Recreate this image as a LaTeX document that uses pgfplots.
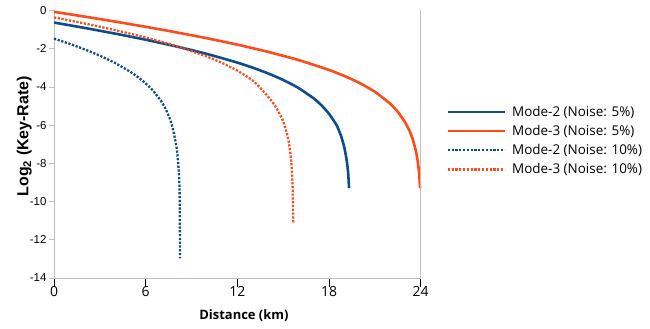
\documentclass[border=0pt]{standalone}
\usepackage{fontspec}
\setmainfont{Open Sans}
\newfontfamily\arialf{Liberation Sans}
\usepackage{pgfplots}
\pgfplotsset{compat=1.18}
\definecolor{modeblue}{RGB}{14,76,140}
\definecolor{modeorange}{RGB}{255,75,25}
\definecolor{axisgray}{RGB}{191,191,191}

\begin{document}
\begin{tikzpicture}
\useasboundingbox (-54bp,-51bp) rectangle (596bp,278bp);
\begin{axis}[
  at={(0,0)}, anchor=south west,
  scale only axis,
  width=366.7bp, height=267.5bp,
  xmin=0, xmax=24, ymin=-14, ymax=0,
  axis x line*=bottom, axis y line*=left,
  axis line style={axisgray, line width=0.9bp, -},
  xtick={0,6,12,18,24},
  ytick={-14,-12,-10,-8,-6,-4,-2,0},
  yticklabels={-14,-12,-10,-8,-6,-4,-2,0},
  tick align=outside,
  x tick style={black, line width=0.8bp},
  y tick style={axisgray, line width=0.8bp},
  x tick label style={font=\fontsize{14}{14}\selectfont},
  y tick label style={font=\arialf\fontsize{11.5}{12}\selectfont, xshift=1bp},
  /pgf/number format/assume math mode=true,
  major tick length=5bp,
  xtick style={/pgfplots/major tick length=9bp},
  every axis x label/.style={at={(axis description cs:0.518,0)}, anchor=center, yshift=-38bp},
  every axis y label/.style={at={(axis description cs:-0.06,0.53)}, anchor=south, rotate=90, inner sep=0pt},
  xlabel={\bfseries\fontsize{13}{13}\selectfont Distance (km)},
  ylabel={\arialf\bfseries\fontsize{16}{16}\selectfont Log\textsubscript{2} (Key-Rate)},
  legend style={at={(1.07,0.651)}, anchor=north west, draw=none, fill=none,
    font=\fontsize{13.5}{13.5}\selectfont, row sep=3.5bp, inner sep=0pt},
  legend cell align=left,
  legend image code/.code={\draw[#1] (0bp,0bp) -- (57bp,0bp); \path (61bp,0bp);},
  clip=false,
]
% Mode-2, noise 5%
\addplot[modeblue, line width=2.6bp, smooth, tension=0.3] coordinates {
(0,-0.630) (2,-0.911) (4,-1.209) (6,-1.529) (8,-1.879) (10,-2.270) (12,-2.726)
(13,-2.990) (14,-3.288) (15,-3.635) (16,-4.054) (17,-4.601) (17.5,-4.957)
(18,-5.405) (18.5,-6.007) (18.8,-6.594) (19.0,-7.165) (19.15,-7.80) (19.25,-8.47)
(19.31,-9.3)};
% Mode-3, noise 5%
\addplot[modeorange, line width=2.6bp, smooth, tension=0.3] coordinates {
(0,-0.068) (2,-0.319) (4,-0.580) (6,-0.853) (8,-1.142) (10,-1.451) (12,-1.787)
(14,-2.162) (16,-2.591) (18,-3.110) (19,-3.424) (20,-3.794) (21,-4.252)
(22,-4.874) (22.5,-5.299) (23,-5.879) (23.3,-6.352) (23.5,-6.787) (23.7,-7.41)
(23.8,-7.865) (23.9,-8.53) (23.96,-9.3)};
% Mode-2, noise 10%
\addplot[modeblue, line width=2.3bp, dash pattern=on 2.2bp off 1.6bp, smooth, tension=0.3] coordinates {
(0,-1.470) (1,-1.738) (2,-2.033) (3,-2.364) (4,-2.748) (5,-3.211) (5.5,-3.488)
(6,-3.814) (6.5,-4.211) (7,-4.729) (7.3,-5.138) (7.6,-5.695) (7.8,-6.258)
(8.0,-7.06) (8.1,-7.72) (8.17,-8.49) (8.22,-9.49) (8.25,-12.97)};
% Mode-3, noise 10%
\addplot[modeorange, line width=2.3bp, dash pattern=on 2.2bp off 1.6bp, smooth, tension=0.3] coordinates {
(0,-0.360) (2,-0.678) (4,-1.025) (6,-1.412) (8,-1.861) (10,-2.408) (11,-2.743)
(12,-3.146) (13,-3.660) (13.5,-4.05) (14,-4.50) (14.5,-5.02) (15,-5.80)
(15.3,-6.61) (15.45,-7.33) (15.55,-8.15) (15.62,-9.27) (15.66,-11.15)};
\draw[axisgray, line width=0.9bp] (rel axis cs:1,0) -- (rel axis cs:1,1);
\legend{Mode-2 (Noise: 5\%), Mode-3 (Noise: 5\%), Mode-2 (Noise: 10\%), Mode-3 (Noise: 10\%)}
\end{axis}
\end{tikzpicture}
\end{document}
